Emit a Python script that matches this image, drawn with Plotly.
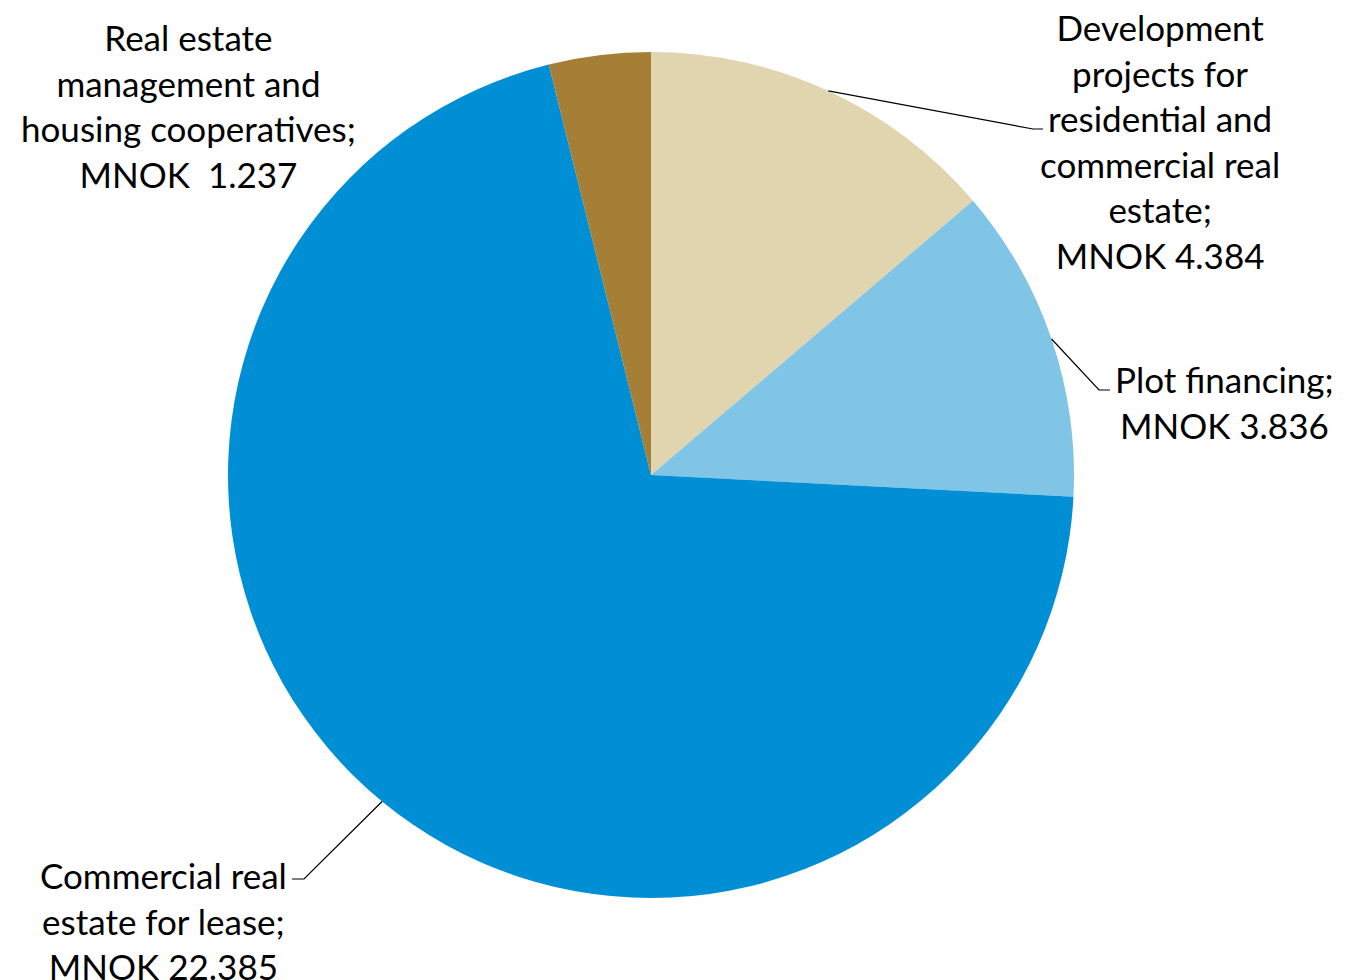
import math
import plotly.graph_objects as go

# Lending by segment, MNOK
segments = [
    "Development projects for residential and commercial real estate",
    "Plot financing",
    "Commercial real estate for lease",
    "Real estate management and housing cooperatives",
]
values = [4.384, 3.836, 22.385, 1.237]
value_labels = ["4.384", "3.836", "22.385", " 1.237"]
colors = ["#E0D5AE", "#80C4E6", "#008FD5", "#A57F35"]

label_texts = [
    "Development<br>projects for<br>residential and<br>commercial real<br>estate;<br>MNOK " + value_labels[0],
    "Plot financing;<br>MNOK " + value_labels[1],
    "Commercial real<br>estate for lease;<br>MNOK " + value_labels[2],
    "Real estate<br>management and<br>housing cooperatives;<br>MNOK " + value_labels[3],
]

W, H = 1350, 980
cx, cy, r = 651, 475, 423

fig = go.Figure(go.Pie(
    labels=segments,
    values=values,
    marker=dict(colors=colors, line=dict(width=0)),
    sort=False,
    direction="clockwise",
    rotation=0,
    textinfo="none",
    hoverinfo="label+value",
    domain=dict(x=[(cx - r) / W, (cx + r) / W], y=[1 - (cy + r) / H, 1 - (cy - r) / H]),
    showlegend=False,
))

font = dict(family="Lato, Open Sans, sans-serif", size=35, color="#000000")

# label centre positions (px) and leader-line elbow/end points
label_pos = [(1160, 141), (1224, 402), (163, 920), (188, 106)]
elbows = [((1033, 129), (1043, 129)), ((1099, 390), (1110, 390)), ((304, 879), (292, 879)), None]

def to_paper(x, y):
    return x / W, 1 - y / H

total = sum(values)
start = 0.0
shapes = []
for i, v in enumerate(values):
    mid = (start + v / 2) / total * 2 * math.pi
    start += v
    if elbows[i] is None:
        continue
    ex, ey = cx + r * math.sin(mid), cy - r * math.cos(mid)
    pts = [(ex, ey), elbows[i][0], elbows[i][1]]
    path = "M " + " L ".join(f"{to_paper(*p)[0]:.5f},{to_paper(*p)[1]:.5f}" for p in pts)
    shapes.append(dict(type="path", path=path, xref="paper", yref="paper",
                       line=dict(color="#000000", width=1.2)))

annotations = []
for (lx, ly), t in zip(label_pos, label_texts):
    px, py = to_paper(lx, ly)
    annotations.append(dict(x=px, y=py, xref="paper", yref="paper", text=t,
                            showarrow=False, align="center", xanchor="center",
                            yanchor="middle", font=font))

fig.update_layout(
    width=W, height=H,
    margin=dict(l=0, r=0, t=0, b=0),
    paper_bgcolor="#FFFFFF",
    plot_bgcolor="#FFFFFF",
    shapes=shapes,
    annotations=annotations,
)

fig.write_html("out.html")
